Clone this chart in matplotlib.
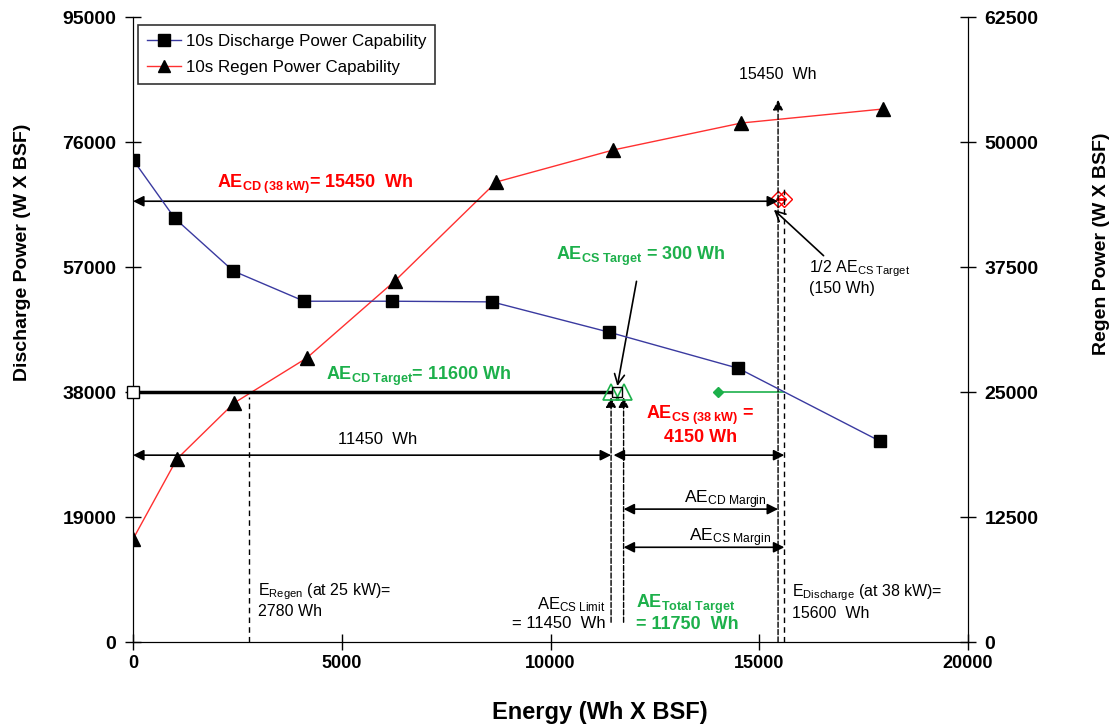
import matplotlib
matplotlib.use("Agg")
import matplotlib.pyplot as plt

# 10s power capability vs energy removed
energy_dis = [0, 1000, 2400, 4100, 6200, 8600, 11400, 14500, 17900]
power_dis = [73300, 64400, 56400, 51800, 51800, 51700, 47100, 41600, 30500]
energy_regen = [0, 1050, 2420, 4160, 6270, 8700, 11500, 14570, 17960]
power_regen = [10300, 18300, 23900, 28400, 36100, 46000, 49200, 51900, 53300]

# energy markers (Wh) and target power (W)
e_regen = 2780
e_cs_limit = 11450
e_cd_target = 11600
e_total_target = 11750
e_cd = 15450
e_discharge = 15600
p_target = 38000
e_green_start = 14000

xticks = [0, 5000, 10000, 15000, 20000]
left_ticks = [0, 19000, 38000, 57000, 76000, 95000]
right_ticks = [0, 12500, 25000, 37500, 50000, 62500]

GREEN = "#1DB04B"
RED = "#FF0000"

plt.rcParams["font.family"] = "Liberation Sans"
plt.rcParams["mathtext.fontset"] = "custom"
plt.rcParams["mathtext.rm"] = "Liberation Sans"
plt.rcParams["mathtext.bf"] = "Liberation Sans:bold"
plt.rcParams["mathtext.it"] = "Liberation Sans:italic"

fig = plt.figure(figsize=(11.2, 7.27), dpi=100)
ax = fig.add_axes([0.1188, 0.1169, 0.7455, 0.8597])
ax2 = ax.twinx()

ax.set_xlim(0, 20000)
ax.set_ylim(0, 95000)
ax2.set_ylim(0, 62500)
ax.set_xticks(xticks)
ax.set_yticks(left_ticks)
ax2.set_yticks(right_ticks)
for a in (ax, ax2):
    a.spines["top"].set_visible(False)
    a.tick_params(direction="inout", length=12, width=1)
    a.tick_params(axis="y", labelsize=14, pad=6)
    a.tick_params(axis="x", labelsize=13, pad=3)
    for lab in a.get_xticklabels() + a.get_yticklabels():
        lab.set_fontweight("bold")

ax.set_xlabel("Energy (Wh X BSF)", fontsize=17, fontweight="bold")
ax.set_ylabel("Discharge Power (W X BSF)", fontsize=14, fontweight="bold")
ax2.set_ylabel("Regen Power (W X BSF)", fontsize=14, fontweight="bold")
ax.xaxis.set_label_coords(0.559, -0.094)
ax.yaxis.set_label_coords(-0.122, 0.624)
ax2.yaxis.set_label_coords(1.15, 0.637)

# main curves
l1, = ax.plot(energy_dis, power_dis, color="#3A3AA0", lw=1, marker="s", ms=9,
              mfc="black", mec="black", label="10s Discharge Power Capability", zorder=5)
l2, = ax2.plot(energy_regen, power_regen, color="#FF3030", lw=1, marker="^", ms=10,
               mfc="black", mec="black", label="10s Regen Power Capability", zorder=5)
ax.set_zorder(ax2.get_zorder() + 1)
ax.patch.set_visible(False)

leg = ax.legend(handles=[l1, l2], loc="upper left", bbox_to_anchor=(0.006, 0.988),
                borderaxespad=0, fancybox=False, edgecolor="black", fontsize=12.2,
                handlelength=2.0, handletextpad=0.25, borderpad=0.55,
                labelspacing=0.65, markerscale=0.9)
leg.get_frame().set_linewidth(1.2)

def dbl_arrow(x0, x1, y, style="<|-|>"):
    ax.annotate("", xy=(x1, y), xytext=(x0, y),
                arrowprops=dict(arrowstyle=style, color="black", lw=1.2,
                                mutation_scale=16, shrinkA=0, shrinkB=0))

def vdash(x, y0, y1, head=False):
    if head:
        ax.annotate("", xy=(x, y1), xytext=(x, y0),
                    arrowprops=dict(arrowstyle="-|>", color="black", lw=1,
                                    ls="--", mutation_scale=15, shrinkA=0, shrinkB=0))
    else:
        ax.plot([x, x], [y0, y1], color="black", lw=1, ls=(0, (4, 3)))

# target power line
ax.plot([0, e_cs_limit], [p_target, p_target], color="black", lw=2.5, zorder=3)
ax.plot([0], [p_target], marker="s", ms=9, mfc="white", mec="black", clip_on=False, zorder=6)
ax.plot([e_cs_limit, e_total_target], [p_target, p_target], ls="none", marker="^",
        ms=12, mfc="none", mec=GREEN, mew=1.2, zorder=6)
ax.plot([e_cd_target], [p_target], marker="s", ms=7, mfc="none", mec="black", zorder=6)
ax.plot([e_green_start, e_discharge], [p_target, p_target], color=GREEN, lw=1.2)
ax.plot([e_green_start], [p_target], marker="D", ms=5, color=GREEN)

# CD energy arrow and markers
dbl_arrow(0, e_cd, 67000, style="<|-|>")
ax.plot([e_cd, e_discharge], [67300, 67300], color=RED, lw=2)
ax.plot([e_cd, e_discharge], [67300, 67300], ls="none", marker="D", ms=8,
        mfc="none", mec=RED, mew=1)
ax.text(4360, 69500, r"AE$_{\mathbf{CD\ (38\ kW)}}$= 15450  Wh", color=RED,
        fontsize=13, fontweight="bold", ha="center", va="center")

vdash(e_cd, 0, 82400, head=True)
ax.text(e_cd, 86200, "15450  Wh", fontsize=11.5, ha="center", va="center")
vdash(e_discharge, 0, 69300)

ax.annotate("1/2 AE$_{\\mathrm{CS\\ Target}}$\n(150 Wh)", xy=(15350, 65700),
            xytext=(16200, 58300), fontsize=11.5, ha="left", va="top",
            arrowprops=dict(arrowstyle="->", color="black", lw=1.2,
                            mutation_scale=18, shrinkA=0, shrinkB=0,
                            relpos=(0.17, 1)))

ax.annotate(r"AE$_{\mathbf{CS\ Target}}$ = 300 Wh", xy=(11600, 38900),
            xytext=(12170, 58670), fontsize=13, fontweight="bold", color=GREEN,
            ha="center", va="center",
            arrowprops=dict(arrowstyle="->", color="black", lw=1.2,
                            mutation_scale=18, shrinkA=8, shrinkB=0))

ax.text(6850, 40300, r"AE$_{\mathbf{CD\ Target}}$= 11600 Wh", color=GREEN,
        fontsize=13, fontweight="bold", ha="center", va="center")

# CS limit / total target lines
ax.text(5870, 30800, "11450  Wh", fontsize=12, ha="center", va="center")
dbl_arrow(0, e_cs_limit, 28400)
dbl_arrow(e_cs_limit + 60, e_discharge, 28400)
vdash(e_cs_limit, 3000, 37200, head=True)
vdash(e_total_target, 3000, 37200, head=True)
vdash(e_regen, 0, 37300)

ax.text(13590, 33000, "AE$_{\\mathbf{CS\\ (38\\ kW)}}$ =\n4150 Wh", color=RED,
        fontsize=13, fontweight="bold", ha="center", va="center", linespacing=1.1)

dbl_arrow(e_total_target, e_cd, 20200)
ax.text(14190, 21700, r"AE$_{\mathrm{CD\ Margin}}$", fontsize=12.5, ha="center", va="center")
dbl_arrow(e_total_target, e_discharge, 14400)
ax.text(14300, 15900, r"AE$_{\mathrm{CS\ Margin}}$", fontsize=12.5, ha="center", va="center")

ax.text(11310, 4400, "AE$_{\\mathrm{CS\\ Limit}}$\n= 11450  Wh", fontsize=12,
        ha="right", va="center", multialignment="right", linespacing=1.1)
ax.text(12050, 4400, "AE$_{\\mathbf{Total\\ Target}}$\n= 11750  Wh", fontsize=13,
        fontweight="bold", color=GREEN, ha="left", va="center", linespacing=1.0)
ax.text(15790, 6100, "E$_{\\mathrm{Discharge}}$ (at 38 kW)=\n15600  Wh", fontsize=11.5,
        ha="left", va="center", linespacing=1.2)
ax.text(2995, 6400, "E$_{\\mathrm{Regen}}$ (at 25 kW)=\n2780 Wh", fontsize=11.5,
        ha="left", va="center", linespacing=1.2)

fig.savefig("out.png", dpi=100)
